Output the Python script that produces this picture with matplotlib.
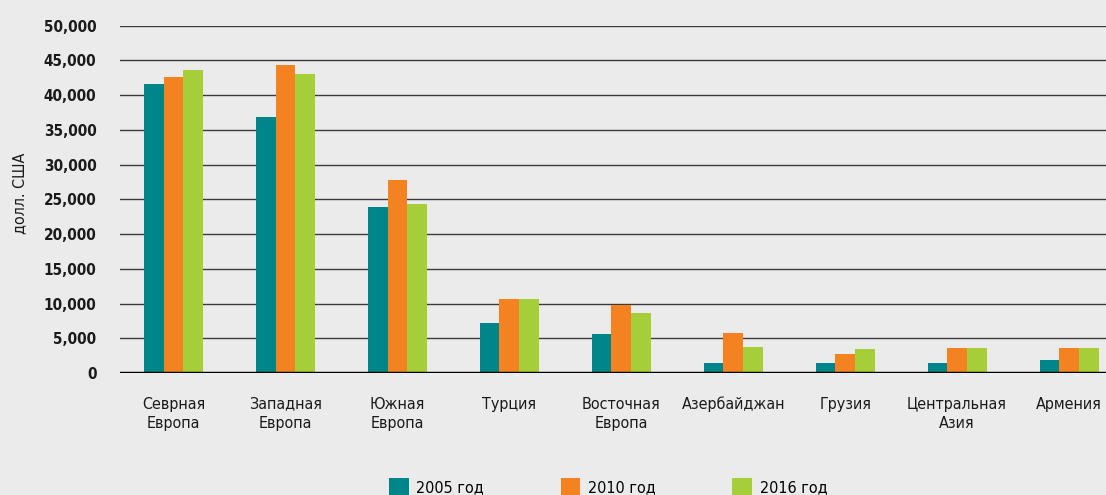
import matplotlib
matplotlib.use('Agg')
import numpy as np
from matplotlib import pyplot as plt
from matplotlib.patches import Patch

# Data
regions = ['Севрная\nЕвропа', 'Западная\nЕвропа', 'Южная\nЕвропа', 'Турция',
           'Восточная\nЕвропа', 'Азербайджан', 'Грузия', 'Центральная\nАзия', 'Армения']
years = ['2005 год', '2010 год', '2016 год']
vals_2005 = [41600, 36900, 23900, 7250, 5650, 1500, 1500, 1500, 1800]
vals_2010 = [42600, 44300, 27800, 10700, 9850, 5800, 2800, 3650, 3650]
vals_2016 = [43600, 43050, 24400, 10700, 8700, 3800, 3500, 3650, 3650]
y_ticks = [0, 5000, 10000, 15000, 20000, 25000, 30000, 35000, 40000, 45000, 50000]

colors = ['#00868a', '#f58220', '#a6ce39']
bg = '#ebebeb'

plt.rcParams['font.family'] = ['DejaVu Sans']
plt.rcParams['font.stretch'] = 'condensed'

fig = plt.figure(figsize=(11.06, 4.95), dpi=100, facecolor=bg)
ax = fig.add_axes([0.1085, 0.2465, 0.8915, 0.7015])
ax.set_facecolor(bg)

x = np.arange(len(regions))
w = 0.176
for i, vals in enumerate([vals_2005, vals_2010, vals_2016]):
    ax.bar(x + (i - 1) * w, vals, width=w, color=colors[i], zorder=3)

ax.set_ylim(0, 50000)
ax.set_xlim(-0.478, 8.33)
ax.set_yticks(y_ticks)
ax.set_yticklabels([f'{v:,}' for v in y_ticks], fontsize=11, fontweight='bold', color='#1a1a1a')
ax.set_xticks(x)
ax.set_xticklabels(regions, fontsize=11.5, color='#1a1a1a', linespacing=1.4)
ax.tick_params(axis='y', length=0, pad=17)
ax.tick_params(axis='x', length=0, pad=17)

# gridlines
for v in y_ticks[1:]:
    ax.axhline(v, color='#3a3a3a', lw=1.0, zorder=1)
ax.axhline(0, color='black', lw=2.5, zorder=4)

for s in ax.spines.values():
    s.set_visible(False)

ax.set_ylabel('долл. США', fontsize=11.5, color='#1a1a1a')
ax.yaxis.set_label_coords(-0.094, 0.518)

handles = [Patch(facecolor=c, edgecolor='none') for c in colors]
fig.legend(handles, years, loc='center', bbox_to_anchor=(0.55, 0.016),
           ncol=3, frameon=False, fontsize=11.5, handlelength=1.2, handleheight=1.3,
           handletextpad=0.5, columnspacing=4.8, borderaxespad=0)

plt.savefig('out.png', dpi=100, facecolor=bg)
